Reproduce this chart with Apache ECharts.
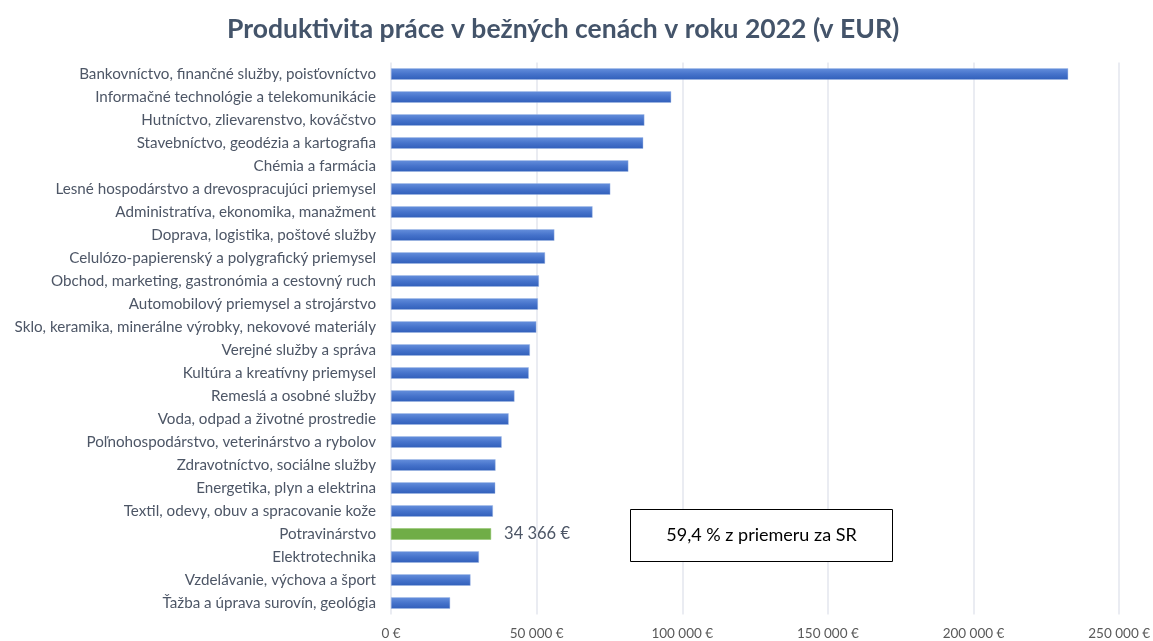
<!DOCTYPE html>
<html>
<head>
<meta charset="utf-8">
<script src="https://cdn.jsdelivr.net/npm/echarts@6/dist/echarts.min.js"></script>
<style>
html,body{margin:0;padding:0;background:#fff;}
#chart{width:1153px;height:641px;}
</style>
</head>
<body>
<div id="chart"></div>
<script>
const titleText = 'Produktivita práce v bežných cenách v roku 2022 (v EUR)';
const categories = [
  'Bankovníctvo, finančné služby, poisťovníctvo',
  'Informačné technológie a telekomunikácie',
  'Hutníctvo, zlievarenstvo, kováčstvo',
  'Stavebníctvo, geodézia a kartografia',
  'Chémia a farmácia',
  'Lesné hospodárstvo a drevospracujúci priemysel',
  'Administratíva, ekonomika, manažment',
  'Doprava, logistika, poštové služby',
  'Celulózo-papierenský a polygrafický priemysel',
  'Obchod, marketing, gastronómia a cestovný ruch',
  'Automobilový priemysel a strojárstvo',
  'Sklo, keramika, minerálne výrobky, nekovové materiály',
  'Verejné služby a správa',
  'Kultúra a kreatívny priemysel',
  'Remeslá a osobné služby',
  'Voda, odpad a životné prostredie',
  'Poľnohospodárstvo, veterinárstvo a rybolov',
  'Zdravotníctvo, sociálne služby',
  'Energetika, plyn a elektrina',
  'Textil, odevy, obuv a spracovanie kože',
  'Potravinárstvo',
  'Elektrotechnika',
  'Vzdelávanie, výchova a šport',
  'Ťažba a úprava surovín, geológia'
];
const values = [232500, 96200, 87000, 86600, 81500, 75300, 69200, 56100, 52900, 50800, 50450, 49900,
  47700, 47300, 42400, 40400, 38000, 35900, 35800, 35000, 34366, 30200, 27300, 20300];
const highlightCategory = 'Potravinárstvo';
const annotationText = '59,4 % z priemeru za SR';
const axisMin = 0, axisMax = 250000, axisStep = 50000;

function fmtEur(v){
  return String(Math.round(v)).replace(/\B(?=(\d{3})+(?!\d))/g, ' ') + ' €';
}

const blueGrad = new echarts.graphic.LinearGradient(0,0,0,1,[
  {offset:0,color:'#658fdc'},{offset:0.5,color:'#4673cb'},{offset:1,color:'#315fba'}]);

const seriesData = values.map((v,i)=>{
  if(categories[i]===highlightCategory){
    return {value:v,itemStyle:{color:'#70ad47',borderColor:'#8fc46a'},
      label:{show:true,position:'right',distance:13,formatter:p=>fmtEur(p.value),
        color:'#4d5666',fontSize:16.5,fontFamily:'Lato'}};
  }
  return {value:v};
});

const chart = echarts.init(document.getElementById('chart'));
chart.setOption({
  backgroundColor:'#ffffff',
  animation:false,
  title:{text:titleText,left:222,top:11,
    textStyle:{fontFamily:'Lato',fontWeight:'bold',fontSize:26.5,color:'#44546a'}},
  grid:{left:391,right:33,top:62.5,bottom:26.5,containLabel:false},
  xAxis:{type:'value',min:axisMin,max:axisMax,interval:axisStep,
    axisLine:{show:false},axisTick:{show:false},
    splitLine:{show:true,lineStyle:{color:'#e3e6ee',width:1.5}},
    axisLabel:{formatter:fmtEur,color:'#595959',fontFamily:'Lato',fontSize:13.5,margin:12}},
  yAxis:{type:'category',data:categories,inverse:true,
    axisLine:{show:false},axisTick:{show:false},
    axisLabel:{color:'#4d5666',fontFamily:'Lato',fontSize:15.2,margin:15}},
  series:[{type:'bar',data:seriesData,barWidth:11.5,
    itemStyle:{color:blueGrad,borderColor:'rgba(160,185,230,0.8)',borderWidth:0.5}}],
  graphic:[{type:'group',left:630,top:509,z:100,children:[
    {type:'rect',z:100,shape:{x:0,y:0,width:262,height:52},style:{fill:'#fff',stroke:'#000',lineWidth:1}},
    {type:'text',z:101,x:131,y:26,style:{text:annotationText,fontFamily:'Lato',fontSize:18,fill:'#000',align:'center',verticalAlign:'middle'}}
  ]}]
});
</script>
</body>
</html>
